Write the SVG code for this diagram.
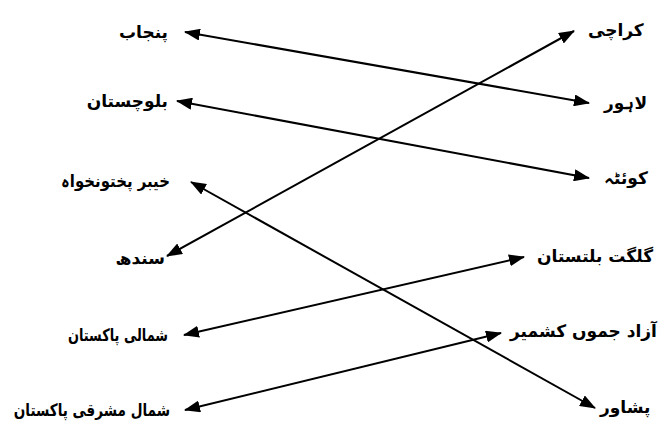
<svg xmlns="http://www.w3.org/2000/svg" width="661" height="440" viewBox="0 0 661 440">
<style>
.lbl{font-family:"DejaVu Sans","Noto Sans",sans-serif;font-size:17px;font-weight:bold;fill:#000}
.l{text-anchor:end}
.r{text-anchor:start}
.c{stroke:#000;stroke-width:2;fill:none;marker-start:url(#ah);marker-end:url(#ah)}
</style>
<defs>
<marker id="ah" markerUnits="userSpaceOnUse" markerWidth="16" markerHeight="12" viewBox="0 0 16 12" refX="15" refY="6" orient="auto-start-reverse">
<path d="M0,0 L16,6 L0,12 Z" fill="#000"/>
</marker>
</defs>
<rect width="661" height="440" fill="#fff"/>
<g id="connectors">
<line class="c" x1="185" y1="32" x2="589" y2="103"/>
<line class="c" x1="177" y1="101" x2="589" y2="178"/>
<line class="c" x1="191" y1="182" x2="595" y2="408"/>
<line class="c" x1="167" y1="256" x2="574" y2="31"/>
<line class="c" x1="184" y1="335" x2="524" y2="257"/>
<line class="c" x1="185" y1="410" x2="501" y2="333"/>
</g>
<g id="punjab"><text class="lbl l" x="168" y="38">پنجاب</text></g>
<g id="balochistan"><text class="lbl l" x="168" y="107">بلوچستان</text></g>
<g id="kpk"><text class="lbl l" transform="translate(170,187) scale(0.88,1)" x="0" y="0">خیبر پختونخواہ</text></g>
<g id="sindh"><text class="lbl l" x="165" y="264" font-size="18">سندھ</text></g>
<g id="shimali"><text class="lbl l" transform="translate(168,341) scale(0.76,1)" x="0" y="0">شمالی پاکستان</text></g>
<g id="shumal-mashriq"><text class="lbl l" transform="translate(170,416) scale(0.8,1)" x="0" y="0">شمال مشرقی پاکستان</text></g>
<g id="karachi"><text class="lbl r" x="588" y="36" font-size="19">کراچی</text></g>
<g id="lahore"><text class="lbl r" x="604" y="109">لاہور</text></g>
<g id="quetta"><text class="lbl r" x="604" y="184">کوئٹہ</text></g>
<g id="gilgit"><text class="lbl r" x="537" y="262">گلگت بلتستان</text></g>
<g id="ajk"><text class="lbl r" x="510" y="337">آزاد جموں کشمیر</text></g>
<g id="peshawar"><text class="lbl r" x="600" y="413">پشاور</text></g>
</svg>
